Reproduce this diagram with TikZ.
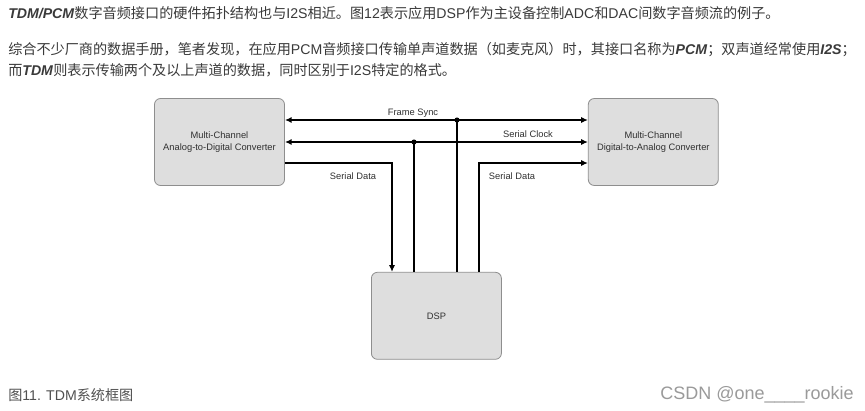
\documentclass[tikz,border=0pt]{standalone}
\usepackage{fontspec}
\setmainfont{Liberation Sans}
\newfontfamily\cjk{Noto Sans CJK SC}
\usepackage{xcolor}
\usepackage{tikz}
\usetikzlibrary{arrows.meta,positioning,calc}

\definecolor{txtgray}{HTML}{3A3A3A}
\definecolor{capgray}{HTML}{505050}
\definecolor{wmgray}{HTML}{9A9A9A}
\definecolor{boxfill}{HTML}{DEDEDE}
\definecolor{boxedge}{HTML}{8E8E8E}
\definecolor{diagtext}{HTML}{303030}

\begin{document}
\begin{tikzpicture}[
  x=0.75pt, y=-0.75pt,               % one unit = one pixel, y runs downwards
  every node/.style={align=center,inner sep=0pt}, % no padding around texts
  >={Latex[length=5pt,width=4.5pt]}, % small filled arrow heads
  blockbox/.style={draw=boxedge, fill=boxfill, rounded corners=4.5pt, line width=0.6pt,
    minimum width=97.5pt, minimum height=65.25pt, text=diagtext, font=\fontsize{7}{9}\selectfont},
  sigline/.style={line width=1pt, draw=black},
  siglabel/.style={text=diagtext, font=\fontsize{7}{9}\selectfont},
  junction/.style={circle, fill=black, minimum size=3.8pt},
  bodytext/.style={anchor=west, text=txtgray, font=\fontsize{10.6}{13}\selectfont}
]
\useasboundingbox[fill=white] (0,0) rectangle (865,411);

% text above the figure
\node[bodytext] (line1) at (8,13) {\textbf{\textit{TDM/PCM}}{\cjk 数字音频接口的硬件拓扑结构也与}I2S{\cjk 相近。图}12{\cjk 表示应用}DSP{\cjk 作为主设备控制}ADC{\cjk 和}DAC{\cjk 间数字音频流的例子。}};
\node[bodytext] (line2) at (8,50) {{\cjk 综合不少厂商的数据手册，笔者发现，在应用}PCM{\cjk 音频接口传输单声道数据（如麦克风）时，其接口名称为}\textbf{\textit{PCM}}{\cjk ；双声道经常使用}\textbf{\textit{I2S}}{\cjk ；}};
\node[bodytext] (line3) at (8,70) {{\cjk 而}\textbf{\textit{TDM}}{\cjk 则表示传输两个及以上声道的数据，同时区别于}I2S{\cjk 特定的格式。}};

% the three blocks
\node[blockbox] (adc) at (219.5,142) {Multi-Channel\\Analog-to-Digital Converter};
\node[blockbox, right=227.25pt of adc] (dac) {Multi-Channel\\Digital-to-Analog Converter};
\node[blockbox, below=64.5pt of $(adc.south)!0.5!(dac.south)$] (dsp) {DSP};

% bus points
\coordinate (fs) at (457,120);
\coordinate (sck) at (414,142);
\coordinate (sdl) at (392,163);
\coordinate (sdr) at (479,163);

% frame sync
\draw[sigline,->] (fs) -- (fs -| adc.east);
\draw[sigline,->] (fs) -- (fs -| dac.west);
\draw[sigline] (fs) -- (fs |- dsp.north);
\node[junction] (fsdot) at (fs) {};

% serial clock
\draw[sigline,->] (sck) -- (sck -| adc.east);
\draw[sigline,->] (sck) -- (sck -| dac.west);
\draw[sigline] (sck) -- (sck |- dsp.north);
\node[junction] (sckdot) at (sck) {};

% serial data in and out
\draw[sigline,->] (sdl -| adc.east) -- (sdl) -- (sdl |- dsp.north);
\draw[sigline,->] (sdr |- dsp.north) -- (sdr) -- (sdr -| dac.west);

\node[siglabel] (fslabel) at (413,113) {Frame Sync};
\node[siglabel] (scklabel) at (528,134) {Serial Clock};
\node[siglabel] (sdllabel) at (353,176) {Serial Data};
\node[siglabel] (sdrlabel) at (512,176) {Serial Data};

% caption and mark
\node[bodytext, text=capgray] (caption) at (8,395) {{\cjk 图}11. TDM{\cjk 系统框图}};
\node[anchor=east, text=wmgray, font=\fontsize{13.5}{15}\selectfont] (mark) at (854,395) {CSDN @one\_\_\_\_rookie};
\end{tikzpicture}
\end{document}
